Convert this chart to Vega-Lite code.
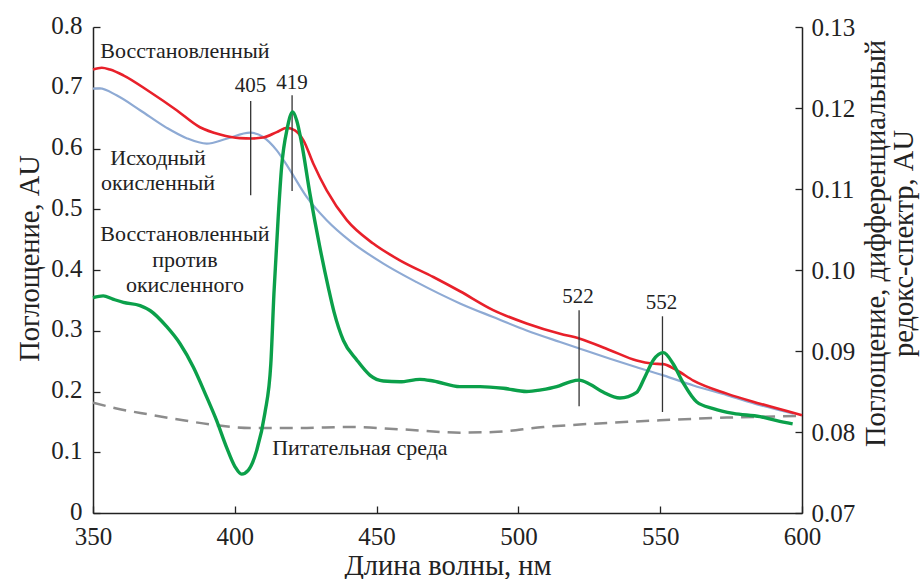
{
  "$schema": "https://vega.github.io/schema/vega-lite/v6.json",
  "width": 709,
  "height": 486,
  "autosize": {"type": "none"},
  "padding": {"left": 93, "top": 27, "right": 121, "bottom": 66},
  "background": "white",
  "config": {
    "view": {"stroke": null},
    "font": "Liberation Serif",
    "axis": {
      "grid": false,
      "domainColor": "#222",
      "domainWidth": 1.5,
      "tickColor": "#222",
      "tickWidth": 1.3,
      "tickSize": -7,
      "labelFlush": false,
      "labelFont": "Liberation Serif",
      "labelFontSize": 25,
      "labelColor": "#222",
      "titleFont": "Liberation Serif",
      "titleFontSize": 28.5,
      "titleFontWeight": "normal",
      "titleColor": "#222"
    }
  },
  "datasets": {
    "red": [
      {"nm": 350, "v": 0.730}, {"nm": 353.1, "v": 0.733}, {"nm": 356, "v": 0.730}, {"nm": 360.7, "v": 0.7205},
      {"nm": 370.1, "v": 0.693}, {"nm": 379.5, "v": 0.663}, {"nm": 387.7, "v": 0.635}, {"nm": 394.8, "v": 0.623},
      {"nm": 401.8, "v": 0.617}, {"nm": 406, "v": 0.6165}, {"nm": 410, "v": 0.618}, {"nm": 414.8, "v": 0.627},
      {"nm": 418.3, "v": 0.634}, {"nm": 421.2, "v": 0.630}, {"nm": 424.2, "v": 0.6135}, {"nm": 427.7, "v": 0.575},
      {"nm": 432.4, "v": 0.531}, {"nm": 439.5, "v": 0.482}, {"nm": 448.8, "v": 0.4435}, {"nm": 458.2, "v": 0.416},
      {"nm": 470, "v": 0.3885}, {"nm": 479.4, "v": 0.365}, {"nm": 491.1, "v": 0.334}, {"nm": 502.9, "v": 0.312},
      {"nm": 514.7, "v": 0.295}, {"nm": 521.7, "v": 0.287}, {"nm": 532.3, "v": 0.268}, {"nm": 541.7, "v": 0.251},
      {"nm": 547, "v": 0.246}, {"nm": 551.1, "v": 0.245}, {"nm": 555.8, "v": 0.235}, {"nm": 561.7, "v": 0.218},
      {"nm": 573.5, "v": 0.1965}, {"nm": 585.2, "v": 0.180}, {"nm": 600, "v": 0.161}
    ],
    "blue": [
      {"nm": 350, "v": 0.6985}, {"nm": 352.4, "v": 0.699}, {"nm": 358.3, "v": 0.6875}, {"nm": 366.6, "v": 0.663},
      {"nm": 376, "v": 0.634}, {"nm": 383, "v": 0.617}, {"nm": 390.1, "v": 0.608}, {"nm": 397.1, "v": 0.616},
      {"nm": 405.4, "v": 0.626}, {"nm": 410, "v": 0.619}, {"nm": 414.8, "v": 0.597}, {"nm": 419.5, "v": 0.564},
      {"nm": 425.4, "v": 0.520}, {"nm": 432.4, "v": 0.482}, {"nm": 440.6, "v": 0.448}, {"nm": 452.4, "v": 0.4105},
      {"nm": 464.1, "v": 0.380}, {"nm": 479.4, "v": 0.345}, {"nm": 491.1, "v": 0.3225}, {"nm": 502.9, "v": 0.3005},
      {"nm": 514.7, "v": 0.2815}, {"nm": 521.7, "v": 0.2705}, {"nm": 532.3, "v": 0.254}, {"nm": 541.7, "v": 0.240},
      {"nm": 551.1, "v": 0.2265}, {"nm": 561.7, "v": 0.210}, {"nm": 573.5, "v": 0.194}, {"nm": 585.2, "v": 0.1775},
      {"nm": 597, "v": 0.1635}
    ],
    "gray": [
      {"nm": 350, "v": 0.1817}, {"nm": 358.3, "v": 0.172}, {"nm": 370.1, "v": 0.162}, {"nm": 381.8, "v": 0.1526},
      {"nm": 393.6, "v": 0.1444}, {"nm": 405.4, "v": 0.140}, {"nm": 423, "v": 0.140}, {"nm": 440.6, "v": 0.1416},
      {"nm": 458.2, "v": 0.1378}, {"nm": 479.4, "v": 0.1323}, {"nm": 491.1, "v": 0.1333}, {"nm": 508.8, "v": 0.1416},
      {"nm": 526.4, "v": 0.147}, {"nm": 549.9, "v": 0.1526}, {"nm": 573.5, "v": 0.157}, {"nm": 599.3, "v": 0.1597}
    ],
    "green": [
      {"nm": 350, "v": 0.0966}, {"nm": 353.6, "v": 0.0968}, {"nm": 357, "v": 0.0964}, {"nm": 360.7, "v": 0.0960},
      {"nm": 366.6, "v": 0.0956}, {"nm": 370.1, "v": 0.0950}, {"nm": 376, "v": 0.0930}, {"nm": 380.7, "v": 0.0909},
      {"nm": 385.4, "v": 0.0880}, {"nm": 390.1, "v": 0.0843}, {"nm": 393.6, "v": 0.0814}, {"nm": 397.1, "v": 0.0781},
      {"nm": 400.1, "v": 0.0757}, {"nm": 402.4, "v": 0.0748}, {"nm": 404.8, "v": 0.0753}, {"nm": 407.7, "v": 0.0777},
      {"nm": 410.6, "v": 0.0823}, {"nm": 412.7, "v": 0.0884}, {"nm": 413.8, "v": 0.0971}, {"nm": 415.3, "v": 0.1065},
      {"nm": 416.5, "v": 0.1127}, {"nm": 418.5, "v": 0.1175}, {"nm": 420.4, "v": 0.1195}, {"nm": 421.8, "v": 0.1185},
      {"nm": 423.6, "v": 0.1156}, {"nm": 426.5, "v": 0.1094}, {"nm": 430, "v": 0.1028}, {"nm": 433, "v": 0.0978},
      {"nm": 435, "v": 0.0948}, {"nm": 438.3, "v": 0.0913}, {"nm": 443, "v": 0.0889}, {"nm": 447.7, "v": 0.0870},
      {"nm": 452.4, "v": 0.0863}, {"nm": 458.2, "v": 0.0862}, {"nm": 465.3, "v": 0.0865}, {"nm": 470, "v": 0.0863},
      {"nm": 479.4, "v": 0.0856}, {"nm": 486.5, "v": 0.0856}, {"nm": 494.7, "v": 0.0854}, {"nm": 502.9, "v": 0.0850},
      {"nm": 508, "v": 0.0852}, {"nm": 513.5, "v": 0.0856}, {"nm": 518.2, "v": 0.0862}, {"nm": 521.4, "v": 0.0864},
      {"nm": 525.2, "v": 0.0859}, {"nm": 530, "v": 0.0849}, {"nm": 535.8, "v": 0.0842}, {"nm": 541.7, "v": 0.0849},
      {"nm": 544.6, "v": 0.0868}, {"nm": 547.6, "v": 0.0889}, {"nm": 551.1, "v": 0.0898}, {"nm": 554.6, "v": 0.0884},
      {"nm": 558.2, "v": 0.0860}, {"nm": 562.9, "v": 0.0837}, {"nm": 568.7, "v": 0.0829}, {"nm": 575.8, "v": 0.0823},
      {"nm": 585.2, "v": 0.0819}, {"nm": 591.1, "v": 0.0814}, {"nm": 596.7, "v": 0.0810}
    ],
    "marks": [
      {"nm": 405.6, "v": 0.678, "v2": 0.523},
      {"nm": 420.2, "v": 0.6875, "v2": 0.530},
      {"nm": 521.4, "v": 0.3337, "v2": 0.1756},
      {"nm": 550.8, "v": 0.3238, "v2": 0.1663}
    ],
    "peaks": [
      {"label": "405", "nm": 405.5, "v": 0.693},
      {"label": "419", "nm": 420.2, "v": 0.6986},
      {"label": "522", "nm": 521.0, "v": 0.3457},
      {"label": "552", "nm": 550.5, "v": 0.3358}
    ],
    "words": [
      {"label": "Восстановленный", "nm": 382.4, "v": 0.749},
      {"label": "Исходный", "nm": 372.9, "v": 0.5735},
      {"label": "окисленный", "nm": 372.9, "v": 0.532},
      {"label": "Восстановленный", "nm": 382.4, "v": 0.4477},
      {"label": "против", "nm": 382.4, "v": 0.405},
      {"label": "окисленного", "nm": 382.4, "v": 0.3638},
      {"label": "Питательная среда", "nm": 444.1, "v": 0.095}
    ]
  },
  "encoding": {
    "x": {
      "field": "nm", "type": "quantitative",
      "scale": {"domain": [350, 600], "nice": false, "zero": false},
      "axis": {"title": "Длина волны, нм", "values": [350, 400, 450, 500, 550, 600], "format": "d", "labelPadding": 18, "titlePadding": 2}
    }
  },
  "layer": [
    {
      "encoding": {
        "y": {
          "field": "v", "type": "quantitative",
          "scale": {"domain": [0, 0.8], "nice": false, "zero": false},
          "axis": {"title": "Поглощение, AU", "orient": "left", "values": [0, 0.1, 0.2, 0.3, 0.4, 0.5, 0.6, 0.7, 0.8], "format": ".1~f", "labelPadding": 18, "labelOffset": -2, "titlePadding": 6, "titleY": 231}
        }
      },
      "layer": [
        {"data": {"name": "gray"}, "mark": {"type": "line", "interpolate": "monotone", "color": "#8c8c8c", "strokeWidth": 2.5, "strokeDash": [13, 8]}},
        {"data": {"name": "blue"}, "mark": {"type": "line", "interpolate": "monotone", "color": "#8eaad4", "strokeWidth": 2.2}},
        {"data": {"name": "red"}, "mark": {"type": "line", "interpolate": "monotone", "color": "#e8202a", "strokeWidth": 2.6}},
        {"data": {"name": "marks"}, "mark": {"type": "rule", "color": "#333", "strokeWidth": 1.3}, "encoding": {"y2": {"field": "v2"}}},
        {"data": {"name": "peaks"}, "mark": {"type": "text", "fontSize": 21, "align": "center", "baseline": "alphabetic", "color": "#222"}, "encoding": {"text": {"field": "label"}}},
        {"data": {"name": "words"}, "mark": {"type": "text", "fontSize": 22, "align": "center", "baseline": "alphabetic", "color": "#222"}, "encoding": {"text": {"field": "label"}}}
      ]
    },
    {
      "data": {"name": "green"},
      "mark": {"type": "line", "interpolate": "monotone", "color": "#0ba04a", "strokeWidth": 3.4},
      "encoding": {
        "y": {
          "field": "v", "type": "quantitative",
          "scale": {"domain": [0.07, 0.13], "nice": false, "zero": false},
          "axis": {"title": ["Поглощение, дифференциальный", "редокс-спектр, AU"], "orient": "right", "titleAngle": -90, "titleLineHeight": 28, "titleY": 216, "values": [0.07, 0.08, 0.09, 0.1, 0.11, 0.12, 0.13], "format": ".2f", "labelPadding": 16, "titlePadding": 8}
        }
      }
    }
  ],
  "resolve": {"scale": {"y": "independent"}}
}
